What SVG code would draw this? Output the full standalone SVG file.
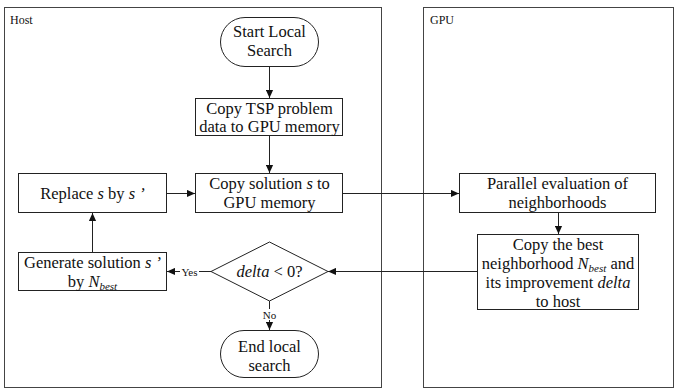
<svg xmlns="http://www.w3.org/2000/svg" width="677" height="389" viewBox="0 0 677 389">
<style>
.panel{fill:#fff;stroke:#444;stroke-width:1}
.box{fill:#fff;stroke:#222;stroke-width:1}
.ln{fill:none;stroke:#222;stroke-width:1}
text{font-family:"Liberation Serif","Times New Roman",serif;font-size:16.5px;fill:#111}
.t{text-anchor:middle}
.sm{font-size:12px}
.lb{font-size:11px}
.i{font-style:italic}
.sub{font-style:italic;font-size:11px}
</style>
<defs>
<marker id="ah" viewBox="0 0 10 10" refX="10" refY="5" markerWidth="8" markerHeight="8" markerUnits="userSpaceOnUse" orient="auto">
<path d="M0,0.5 L10,5 L0,9.5 Z" fill="#111"/>
</marker>
</defs>
<g id="host-panel">
<rect class="panel" x="4.5" y="7.5" width="377" height="380"/>
<text class="sm" x="10" y="24">Host</text>
</g>
<g id="gpu-panel">
<rect class="panel" x="423.5" y="7.5" width="250" height="380"/>
<text class="sm" x="430" y="24">GPU</text>
</g>
<g id="connectors">
<line class="ln" x1="269.5" y1="67" x2="269.5" y2="98" marker-end="url(#ah)"/>
<line class="ln" x1="269.5" y1="135" x2="269.5" y2="173" marker-end="url(#ah)"/>
<line class="ln" x1="167" y1="193.5" x2="195" y2="193.5" marker-end="url(#ah)"/>
<line class="ln" x1="343" y1="193.5" x2="459" y2="193.5" marker-end="url(#ah)"/>
<line class="ln" x1="558.5" y1="213" x2="558.5" y2="234" marker-end="url(#ah)"/>
<line class="ln" x1="477" y1="271.5" x2="328" y2="271.5" marker-end="url(#ah)"/>
<line class="ln" x1="211" y1="271.5" x2="199" y2="271.5"/>
<line class="ln" x1="180" y1="271.5" x2="167" y2="271.5" marker-end="url(#ah)"/>
<text class="lb t" x="189.5" y="275.5">Yes</text>
<line class="ln" x1="92.5" y1="252" x2="92.5" y2="213" marker-end="url(#ah)"/>
<line class="ln" x1="269.5" y1="301" x2="269.5" y2="309"/>
<line class="ln" x1="269.5" y1="320" x2="269.5" y2="330" marker-end="url(#ah)"/>
<text class="lb t" x="269.5" y="319">No</text>
</g>
<g id="start">
<rect class="box" x="220.5" y="17.5" width="98" height="49" rx="24.5"/>
<text class="t" x="269.5" y="37">Start Local</text>
<text class="t" x="269.5" y="56">Search</text>
</g>
<g id="copy-tsp">
<rect class="box" x="195.5" y="98.5" width="147" height="37"/>
<text class="t" x="269.5" y="114">Copy TSP problem</text>
<text class="t" x="269.5" y="132">data to GPU memory</text>
</g>
<g id="copy-solution">
<rect class="box" x="195.5" y="173.5" width="147" height="39"/>
<text class="t" x="269.5" y="189">Copy solution <tspan class="i">s</tspan> to</text>
<text class="t" x="269.5" y="208">GPU memory</text>
</g>
<g id="replace">
<rect class="box" x="18.5" y="173.5" width="148" height="39"/>
<text class="t" x="92.5" y="199">Replace <tspan class="i">s</tspan> by <tspan class="i">s ’</tspan></text>
</g>
<g id="generate">
<rect class="box" x="18.5" y="252.5" width="148" height="38"/>
<text class="t" x="92.5" y="268">Generate solution <tspan class="i">s ’</tspan></text>
<text class="t" x="92.5" y="287">by <tspan class="i">N</tspan><tspan class="sub" dy="3">best</tspan></text>
</g>
<g id="decision">
<polygon class="box" points="269.5,242 328,271.5 269.5,301 211,271.5"/>
<text class="t" x="269.5" y="277"><tspan class="i">delta</tspan> &lt; 0?</text>
</g>
<g id="end">
<rect class="box" x="220.5" y="330.5" width="98" height="47" rx="23.5"/>
<text class="t" x="269.5" y="352">End local</text>
<text class="t" x="269.5" y="371">search</text>
</g>
<g id="parallel">
<rect class="box" x="459.5" y="173.5" width="196" height="39"/>
<text class="t" x="557.5" y="189">Parallel evaluation of</text>
<text class="t" x="557.5" y="208">neighborhoods</text>
</g>
<g id="copy-best">
<rect class="box" x="477.5" y="234.5" width="161" height="75"/>
<text class="t" x="558" y="250">Copy the best</text>
<text class="t" x="558" y="269">neighborhood <tspan class="i">N</tspan><tspan class="sub" dy="3">best</tspan><tspan dy="-3"> and</tspan></text>
<text class="t" x="558" y="288">its improvement <tspan class="i">delta</tspan></text>
<text class="t" x="558" y="307">to host</text>
</g>
</svg>
